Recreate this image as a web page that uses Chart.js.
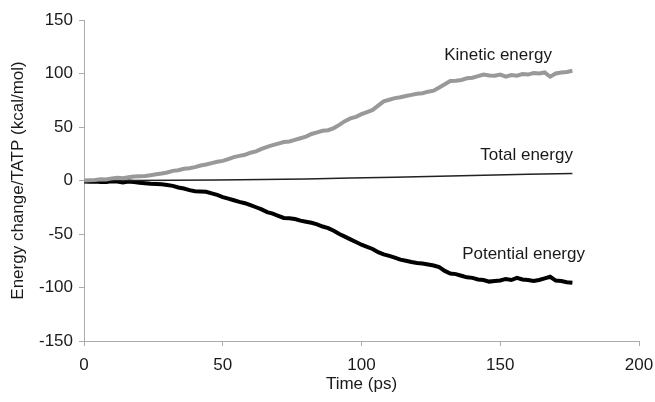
<!DOCTYPE html>
<html>
<head>
<meta charset="utf-8">
<script src="https://cdn.jsdelivr.net/npm/chart.js@4/dist/chart.umd.min.js"></script>
<style>
  html, body { margin: 0; padding: 0; background: #fff; }
  #wrap { width: 655px; height: 402px; }
</style>
</head>
<body>
<div id="wrap"><canvas id="myChart" width="655" height="402"></canvas></div>
<script>
// time points (ps) for kinetic / potential traces
var times = [];
for (var t = 0; t <= 176; t += 2) times.push(t);

// energy change per TATP (kcal/mol)
var kinetic = [0, 0.3, 0.5, 1.2, 1, 2, 2.5, 2.2, 3, 3.8, 4, 4.3, 5, 5.8, 6.5, 7.5, 9, 9.6, 11, 11.5,
    12.5, 14, 15, 16.2, 17.5, 18.3, 20, 21.8, 23, 24, 26, 27.2, 29.5, 31.5, 33, 34.5, 36, 36.5, 38, 39.5,
    41, 43.5, 45, 46.5, 47, 49, 52, 55.5, 58, 59.5, 62, 64, 66, 70, 74, 75.5, 77, 77.8, 79, 80,
    81, 81.5, 83, 84, 87, 90, 93, 93.3, 94, 95.5, 96, 97.5, 99, 98.2, 98, 99, 97, 98.5, 98, 99.5,
    99, 100.5, 100, 101, 97, 100, 101, 101.5, 102.5];
var potential = [-1, -1.2, -1, -1.5, -1.5, -0.8, -1, -1.8, -1, -1.5, -2, -2.5, -3, -3.2, -3.5, -4.2, -5, -6.5, -7.5, -9,
    -10, -10.2, -10.5, -12, -13.5, -15.5, -17, -18.5, -20, -21.2, -23, -25, -27, -29.5, -31, -33, -35, -35.2, -36, -37.5,
    -38.5, -39.5, -41, -43, -44.5, -47, -50, -52.5, -55, -57.5, -60, -62, -64, -67, -69, -70.5, -72, -74, -75, -76.2,
    -77, -77.5, -78.5, -79.5, -81, -84.5, -87, -87.5, -89, -90.5, -91, -92.5, -93, -94.5, -94, -93.5, -92, -93, -91, -92.5,
    -93, -94, -93, -91.5, -90, -93.5, -94, -95, -95.5];

// total energy drifts slowly, so fewer samples
var totalTimes = [0, 16, 32, 48, 64, 80, 96, 112, 128, 144, 160, 176];
var total = [0, 0, 0.2, 0.5, 1, 1.5, 2.3, 3.1, 3.9, 4.8, 5.8, 6.5];

var xTicks = [0, 50, 100, 150, 200];
var yTicks = [-150, -100, -50, 0, 50, 100, 150];

// curve labels: text, anchor time, anchor energy
var labelText = ['Kinetic energy', 'Total energy', 'Potential energy'];
var labelX = [149.2, 159.5, 158.4];
var labelY = [117, 23.8, -68.7];

function pairs(xs, ys) {
    var out = [];
    for (var i = 0; i < xs.length; i++) {
        out.push({ x: xs[i], y: ys[i] });
    }
    return out;
}

var FONT = 'Liberation Sans, Arial, sans-serif';
var axisGray = '#ababab';

var curveLabels = {
    id: 'curveLabels',
    afterDatasetsDraw: function (chart) {
        var ctx = chart.ctx;
        var xs = chart.scales.x, ys = chart.scales.y;
        ctx.save();
        ctx.font = '17px ' + FONT;
        ctx.fillStyle = '#1a1a1a';
        ctx.textAlign = 'center';
        ctx.textBaseline = 'middle';
        for (var i = 0; i < labelText.length; i++) {
            ctx.fillText(labelText[i], xs.getPixelForValue(labelX[i]), ys.getPixelForValue(labelY[i]));
        }
        ctx.restore();
    }
};

const ctx = document.getElementById('myChart').getContext('2d');
const myChart = new Chart(ctx, {
    type: 'line',
    data: {
        datasets: [{
            label: 'Kinetic energy',
            data: pairs(times, kinetic),
            borderColor: '#999999',
            borderWidth: 4,
            pointRadius: 0,
            tension: 0
        }, {
            label: 'Total energy',
            data: pairs(totalTimes, total),
            borderColor: '#222222',
            borderWidth: 1.5,
            pointRadius: 0,
            tension: 0
        }, {
            label: 'Potential energy',
            data: pairs(times, potential),
            borderColor: '#000000',
            borderWidth: 4,
            pointRadius: 0,
            tension: 0
        }]
    },
    options: {
        responsive: false,
        animation: false,
        events: [],
        layout: { padding: { top: 20, right: 16, left: 0, bottom: 0 } },
        plugins: {
            legend: { display: false },
            tooltip: { enabled: false }
        },
        scales: {
            x: {
                type: 'linear',
                min: 0,
                max: 200,
                afterFit: function (s) {
                    s.height = 61;
                    // let the "200" label hang past the plot edge
                    s.paddingLeft = 0;
                    s.paddingRight = 0;
                },
                afterBuildTicks: function (s) { s.ticks = xTicks.map(function (v) { return { value: v }; }); },
                grid: { drawOnChartArea: false, color: axisGray, tickLength: 5 },
                border: { color: axisGray, width: 1 },
                ticks: { color: '#1a1a1a', font: { size: 17, family: FONT }, padding: 9, maxRotation: 0 },
                title: {
                    display: true,
                    text: 'Time (ps)',
                    color: '#1a1a1a',
                    font: { size: 17, family: FONT },
                    padding: { top: 0, bottom: 7 }
                }
            },
            y: {
                min: -150,
                max: 150,
                afterFit: function (s) { s.width = 84; },
                afterBuildTicks: function (s) { s.ticks = yTicks.map(function (v) { return { value: v }; }); },
                grid: { drawOnChartArea: false, color: axisGray, tickLength: 5 },
                border: { color: axisGray, width: 1 },
                ticks: { color: '#1a1a1a', font: { size: 17, family: FONT }, padding: 6 },
                title: {
                    display: true,
                    text: 'Energy change/TATP (kcal/mol)',
                    color: '#1a1a1a',
                    font: { size: 17, family: FONT },
                    padding: { top: 8, bottom: 0 }
                }
            }
        }
    },
    plugins: [curveLabels]
});
</script>
</body>
</html>
